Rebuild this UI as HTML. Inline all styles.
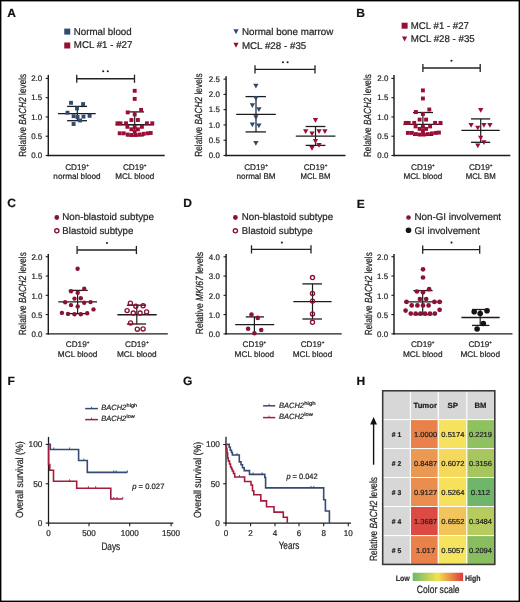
<!DOCTYPE html><html><head><meta charset="utf-8"><style>html,body{margin:0;padding:0;background:#fff;}svg{display:block;will-change:transform;}text{font-family:"Liberation Sans",sans-serif;text-rendering:geometricPrecision;stroke:#262626;stroke-width:0.22px;}</style></head><body>
<svg width="520" height="602" viewBox="0 0 520 602">
<rect x="0" y="0" width="520" height="602" fill="#fff"/>
<text x="7.30" y="17.00" font-size="12" text-anchor="start" font-weight="bold" font-style="normal" fill="#111">A</text>
<rect x="64.25" y="28.60" width="6.0" height="6.0" fill="#2f4b73"/>
<text x="73.80" y="34.70" font-size="9.8" text-anchor="start" font-weight="normal" font-style="normal" fill="#262626" textLength="57.80" lengthAdjust="spacingAndGlyphs">Normal blood</text>
<rect x="64.25" y="42.50" width="6.0" height="6.0" fill="#990f34"/>
<text x="73.80" y="48.30" font-size="9.8" text-anchor="start" font-weight="normal" font-style="normal" fill="#262626" textLength="58.60" lengthAdjust="spacingAndGlyphs">MCL #1 - #27</text>
<line x1="48.30" y1="74.90" x2="48.30" y2="156.20" stroke="#1c1c1c" stroke-width="1.45"/>
<line x1="45.70" y1="78.40" x2="48.30" y2="78.40" stroke="#1c1c1c" stroke-width="1.1"/>
<text x="42.20" y="81.00" font-size="8.0" text-anchor="end" font-weight="normal" font-style="normal" fill="#262626" textLength="11.00" lengthAdjust="spacingAndGlyphs">2.0</text>
<line x1="45.70" y1="97.68" x2="48.30" y2="97.68" stroke="#1c1c1c" stroke-width="1.1"/>
<text x="42.20" y="100.28" font-size="8.0" text-anchor="end" font-weight="normal" font-style="normal" fill="#262626" textLength="11.00" lengthAdjust="spacingAndGlyphs">1.5</text>
<line x1="45.70" y1="116.95" x2="48.30" y2="116.95" stroke="#1c1c1c" stroke-width="1.1"/>
<text x="42.20" y="119.55" font-size="8.0" text-anchor="end" font-weight="normal" font-style="normal" fill="#262626" textLength="11.00" lengthAdjust="spacingAndGlyphs">1.0</text>
<line x1="45.70" y1="136.22" x2="48.30" y2="136.22" stroke="#1c1c1c" stroke-width="1.1"/>
<text x="42.20" y="138.82" font-size="8.0" text-anchor="end" font-weight="normal" font-style="normal" fill="#262626" textLength="11.00" lengthAdjust="spacingAndGlyphs">0.5</text>
<line x1="45.70" y1="155.50" x2="48.30" y2="155.50" stroke="#1c1c1c" stroke-width="1.1"/>
<text x="42.20" y="158.10" font-size="8.0" text-anchor="end" font-weight="normal" font-style="normal" fill="#262626" textLength="11.00" lengthAdjust="spacingAndGlyphs">0.0</text>
<line x1="47.60" y1="155.50" x2="164.70" y2="155.50" stroke="#1c1c1c" stroke-width="1.45"/>
<text transform="translate(25.50,115.30) rotate(-90)" x="0" y="0" font-size="10.3" text-anchor="middle" fill="#262626" textLength="83.00" lengthAdjust="spacingAndGlyphs"><tspan font-style="normal">Relative </tspan><tspan font-style="italic">BACH2</tspan><tspan font-style="normal"> levels</tspan></text>
<line x1="76.75" y1="78.75" x2="134.50" y2="78.75" stroke="#222" stroke-width="1.3"/>
<line x1="76.75" y1="74.65" x2="76.75" y2="82.85" stroke="#222" stroke-width="1.3"/>
<line x1="134.50" y1="74.65" x2="134.50" y2="82.85" stroke="#222" stroke-width="1.3"/>
<circle cx="103.20" cy="71.30" r="1.05" fill="#222"/>
<circle cx="107.80" cy="71.30" r="1.05" fill="#222"/>
<line x1="58.00" y1="113.60" x2="95.70" y2="113.60" stroke="#1c1c1c" stroke-width="1.4"/>
<line x1="67.10" y1="106.40" x2="87.00" y2="106.40" stroke="#1c1c1c" stroke-width="1.3"/>
<line x1="67.10" y1="120.70" x2="87.00" y2="120.70" stroke="#1c1c1c" stroke-width="1.3"/>
<line x1="77.30" y1="106.40" x2="77.30" y2="120.70" stroke="#1c1c1c" stroke-width="1.2"/>
<line x1="115.50" y1="124.80" x2="153.80" y2="124.80" stroke="#1c1c1c" stroke-width="1.4"/>
<line x1="126.00" y1="111.90" x2="144.00" y2="111.90" stroke="#1c1c1c" stroke-width="1.3"/>
<line x1="126.00" y1="135.80" x2="144.00" y2="135.80" stroke="#1c1c1c" stroke-width="1.3"/>
<line x1="134.70" y1="111.90" x2="134.70" y2="135.80" stroke="#1c1c1c" stroke-width="1.2"/>
<rect x="69.05" y="100.85" width="3.9" height="3.9" fill="#2f4b73"/>
<rect x="81.15" y="102.15" width="3.9" height="3.9" fill="#2f4b73"/>
<rect x="75.05" y="106.45" width="3.9" height="3.9" fill="#2f4b73"/>
<rect x="65.55" y="110.75" width="3.9" height="3.9" fill="#2f4b73"/>
<rect x="71.65" y="114.25" width="3.9" height="3.9" fill="#2f4b73"/>
<rect x="81.55" y="114.65" width="3.9" height="3.9" fill="#2f4b73"/>
<rect x="87.65" y="113.85" width="3.9" height="3.9" fill="#2f4b73"/>
<rect x="78.15" y="118.55" width="3.9" height="3.9" fill="#2f4b73"/>
<rect x="71.65" y="122.05" width="3.9" height="3.9" fill="#2f4b73"/>
<rect x="75.55" y="115.05" width="3.9" height="3.9" fill="#2f4b73"/>
<rect x="132.75" y="88.85" width="3.9" height="3.9" fill="#990f34"/>
<rect x="132.75" y="96.95" width="3.9" height="3.9" fill="#990f34"/>
<rect x="139.15" y="107.95" width="3.9" height="3.9" fill="#990f34"/>
<rect x="125.75" y="110.45" width="3.9" height="3.9" fill="#990f34"/>
<rect x="132.75" y="112.45" width="3.9" height="3.9" fill="#990f34"/>
<rect x="129.45" y="118.05" width="3.9" height="3.9" fill="#990f34"/>
<rect x="135.95" y="118.05" width="3.9" height="3.9" fill="#990f34"/>
<rect x="115.55" y="121.35" width="3.9" height="3.9" fill="#990f34"/>
<rect x="118.55" y="121.35" width="3.9" height="3.9" fill="#990f34"/>
<rect x="124.05" y="121.35" width="3.9" height="3.9" fill="#990f34"/>
<rect x="144.95" y="121.35" width="3.9" height="3.9" fill="#990f34"/>
<rect x="150.35" y="121.35" width="3.9" height="3.9" fill="#990f34"/>
<rect x="125.45" y="124.85" width="3.9" height="3.9" fill="#990f34"/>
<rect x="139.95" y="124.85" width="3.9" height="3.9" fill="#990f34"/>
<rect x="132.75" y="125.05" width="3.9" height="3.9" fill="#990f34"/>
<rect x="129.45" y="127.35" width="3.9" height="3.9" fill="#990f34"/>
<rect x="135.95" y="127.35" width="3.9" height="3.9" fill="#990f34"/>
<rect x="117.75" y="131.35" width="3.9" height="3.9" fill="#990f34"/>
<rect x="121.75" y="131.35" width="3.9" height="3.9" fill="#990f34"/>
<rect x="125.75" y="132.55" width="3.9" height="3.9" fill="#990f34"/>
<rect x="129.75" y="133.05" width="3.9" height="3.9" fill="#990f34"/>
<rect x="133.75" y="133.05" width="3.9" height="3.9" fill="#990f34"/>
<rect x="137.75" y="132.55" width="3.9" height="3.9" fill="#990f34"/>
<rect x="141.75" y="131.85" width="3.9" height="3.9" fill="#990f34"/>
<rect x="145.75" y="131.35" width="3.9" height="3.9" fill="#990f34"/>
<rect x="148.75" y="131.05" width="3.9" height="3.9" fill="#990f34"/>
<rect x="132.75" y="129.55" width="3.9" height="3.9" fill="#990f34"/>
<text x="77.00" y="169.50" font-size="8.2" text-anchor="middle" fill="#262626">CD19<tspan font-size="4.6" dy="-3.0">+</tspan></text>
<text x="77.00" y="179.20" font-size="8.2" text-anchor="middle" font-weight="normal" font-style="normal" fill="#262626" textLength="47.30" lengthAdjust="spacingAndGlyphs">normal blood</text>
<text x="134.70" y="169.50" font-size="8.2" text-anchor="middle" fill="#262626">CD19<tspan font-size="4.6" dy="-3.0">+</tspan></text>
<text x="134.70" y="179.20" font-size="8.2" text-anchor="middle" font-weight="normal" font-style="normal" fill="#262626" textLength="39.00" lengthAdjust="spacingAndGlyphs">MCL blood</text>
<path d="M233.40 29.30H238.60L236.00 34.30Z" fill="#2f4b73"/>
<text x="241.90" y="35.00" font-size="9.8" text-anchor="start" font-weight="normal" font-style="normal" fill="#262626" textLength="91.50" lengthAdjust="spacingAndGlyphs">Normal bone marrow</text>
<path d="M233.40 42.80H238.60L236.00 47.80Z" fill="#990f34"/>
<text x="241.90" y="48.50" font-size="9.8" text-anchor="start" font-weight="normal" font-style="normal" fill="#262626" textLength="64.40" lengthAdjust="spacingAndGlyphs">MCL #28 - #35</text>
<line x1="226.10" y1="76.25" x2="226.10" y2="156.20" stroke="#1c1c1c" stroke-width="1.45"/>
<line x1="223.50" y1="79.10" x2="226.10" y2="79.10" stroke="#1c1c1c" stroke-width="1.1"/>
<text x="219.80" y="81.70" font-size="8.0" text-anchor="end" font-weight="normal" font-style="normal" fill="#262626" textLength="11.00" lengthAdjust="spacingAndGlyphs">2.5</text>
<line x1="223.50" y1="94.38" x2="226.10" y2="94.38" stroke="#1c1c1c" stroke-width="1.1"/>
<text x="219.80" y="96.98" font-size="8.0" text-anchor="end" font-weight="normal" font-style="normal" fill="#262626" textLength="11.00" lengthAdjust="spacingAndGlyphs">2.0</text>
<line x1="223.50" y1="109.66" x2="226.10" y2="109.66" stroke="#1c1c1c" stroke-width="1.1"/>
<text x="219.80" y="112.26" font-size="8.0" text-anchor="end" font-weight="normal" font-style="normal" fill="#262626" textLength="11.00" lengthAdjust="spacingAndGlyphs">1.5</text>
<line x1="223.50" y1="124.94" x2="226.10" y2="124.94" stroke="#1c1c1c" stroke-width="1.1"/>
<text x="219.80" y="127.54" font-size="8.0" text-anchor="end" font-weight="normal" font-style="normal" fill="#262626" textLength="11.00" lengthAdjust="spacingAndGlyphs">1.0</text>
<line x1="223.50" y1="140.22" x2="226.10" y2="140.22" stroke="#1c1c1c" stroke-width="1.1"/>
<text x="219.80" y="142.82" font-size="8.0" text-anchor="end" font-weight="normal" font-style="normal" fill="#262626" textLength="11.00" lengthAdjust="spacingAndGlyphs">0.5</text>
<line x1="223.50" y1="155.50" x2="226.10" y2="155.50" stroke="#1c1c1c" stroke-width="1.1"/>
<text x="219.80" y="158.10" font-size="8.0" text-anchor="end" font-weight="normal" font-style="normal" fill="#262626" textLength="11.00" lengthAdjust="spacingAndGlyphs">0.0</text>
<line x1="225.40" y1="155.50" x2="345.50" y2="155.50" stroke="#1c1c1c" stroke-width="1.45"/>
<text transform="translate(202.30,115.00) rotate(-90)" x="0" y="0" font-size="10.3" text-anchor="middle" fill="#262626" textLength="83.50" lengthAdjust="spacingAndGlyphs"><tspan font-style="normal">Relative </tspan><tspan font-style="italic">BACH2</tspan><tspan font-style="normal"> levels</tspan></text>
<line x1="255.00" y1="69.30" x2="315.00" y2="69.30" stroke="#222" stroke-width="1.3"/>
<line x1="255.00" y1="65.20" x2="255.00" y2="73.40" stroke="#222" stroke-width="1.3"/>
<line x1="315.00" y1="65.20" x2="315.00" y2="73.40" stroke="#222" stroke-width="1.3"/>
<circle cx="283.00" cy="62.30" r="1.05" fill="#222"/>
<circle cx="287.60" cy="62.30" r="1.05" fill="#222"/>
<line x1="236.20" y1="114.40" x2="275.80" y2="114.40" stroke="#1c1c1c" stroke-width="1.4"/>
<line x1="245.50" y1="96.60" x2="265.90" y2="96.60" stroke="#1c1c1c" stroke-width="1.3"/>
<line x1="245.50" y1="131.90" x2="265.90" y2="131.90" stroke="#1c1c1c" stroke-width="1.3"/>
<line x1="256.00" y1="96.60" x2="256.00" y2="131.90" stroke="#1c1c1c" stroke-width="1.2"/>
<line x1="295.80" y1="136.10" x2="335.40" y2="136.10" stroke="#1c1c1c" stroke-width="1.4"/>
<line x1="305.70" y1="126.50" x2="325.40" y2="126.50" stroke="#1c1c1c" stroke-width="1.3"/>
<line x1="305.70" y1="145.40" x2="325.40" y2="145.40" stroke="#1c1c1c" stroke-width="1.3"/>
<line x1="315.50" y1="126.50" x2="315.50" y2="145.40" stroke="#1c1c1c" stroke-width="1.2"/>
<path d="M253.25 83.85H258.55L255.90 88.55Z" fill="#2f4b73"/>
<path d="M253.25 96.35H258.55L255.90 101.05Z" fill="#2f4b73"/>
<path d="M249.75 103.35H255.05L252.40 108.05Z" fill="#2f4b73"/>
<path d="M256.25 107.35H261.55L258.90 112.05Z" fill="#2f4b73"/>
<path d="M253.25 115.25H258.55L255.90 119.95Z" fill="#2f4b73"/>
<path d="M249.75 122.55H255.05L252.40 127.25Z" fill="#2f4b73"/>
<path d="M256.25 123.55H261.55L258.90 128.25Z" fill="#2f4b73"/>
<path d="M253.25 141.05H258.55L255.90 145.75Z" fill="#2f4b73"/>
<path d="M312.85 118.05H318.15L315.50 122.75Z" fill="#990f34"/>
<path d="M303.05 129.35H308.35L305.70 134.05Z" fill="#990f34"/>
<path d="M309.35 131.45H314.65L312.00 136.15Z" fill="#990f34"/>
<path d="M316.35 129.35H321.65L319.00 134.05Z" fill="#990f34"/>
<path d="M322.25 129.35H327.55L324.90 134.05Z" fill="#990f34"/>
<path d="M312.85 138.95H318.15L315.50 143.65Z" fill="#990f34"/>
<path d="M316.35 143.05H321.65L319.00 147.75Z" fill="#990f34"/>
<path d="M309.35 145.95H314.65L312.00 150.65Z" fill="#990f34"/>
<text x="256.00" y="169.50" font-size="8.2" text-anchor="middle" fill="#262626">CD19<tspan font-size="4.6" dy="-3.0">+</tspan></text>
<text x="256.00" y="179.20" font-size="8.2" text-anchor="middle" font-weight="normal" font-style="normal" fill="#262626" textLength="39.00" lengthAdjust="spacingAndGlyphs">normal BM</text>
<text x="315.50" y="169.50" font-size="8.2" text-anchor="middle" fill="#262626">CD19<tspan font-size="4.6" dy="-3.0">+</tspan></text>
<text x="315.50" y="179.20" font-size="8.2" text-anchor="middle" font-weight="normal" font-style="normal" fill="#262626" textLength="30.00" lengthAdjust="spacingAndGlyphs">MCL BM</text>
<text x="356.30" y="17.30" font-size="12" text-anchor="start" font-weight="bold" font-style="normal" fill="#111">B</text>
<rect x="401.60" y="22.70" width="6.0" height="6.0" fill="#990f34"/>
<text x="410.80" y="28.90" font-size="9.8" text-anchor="start" font-weight="normal" font-style="normal" fill="#262626" textLength="58.20" lengthAdjust="spacingAndGlyphs">MCL #1 - #27</text>
<path d="M402.00 36.50H407.20L404.60 41.50Z" fill="#990f34"/>
<text x="410.80" y="42.20" font-size="9.8" text-anchor="start" font-weight="normal" font-style="normal" fill="#262626" textLength="64.00" lengthAdjust="spacingAndGlyphs">MCL #28 - #35</text>
<line x1="394.00" y1="74.90" x2="394.00" y2="156.20" stroke="#1c1c1c" stroke-width="1.45"/>
<line x1="391.40" y1="78.40" x2="394.00" y2="78.40" stroke="#1c1c1c" stroke-width="1.1"/>
<text x="388.30" y="81.00" font-size="8.0" text-anchor="end" font-weight="normal" font-style="normal" fill="#262626" textLength="11.00" lengthAdjust="spacingAndGlyphs">2.0</text>
<line x1="391.40" y1="97.68" x2="394.00" y2="97.68" stroke="#1c1c1c" stroke-width="1.1"/>
<text x="388.30" y="100.28" font-size="8.0" text-anchor="end" font-weight="normal" font-style="normal" fill="#262626" textLength="11.00" lengthAdjust="spacingAndGlyphs">1.5</text>
<line x1="391.40" y1="116.95" x2="394.00" y2="116.95" stroke="#1c1c1c" stroke-width="1.1"/>
<text x="388.30" y="119.55" font-size="8.0" text-anchor="end" font-weight="normal" font-style="normal" fill="#262626" textLength="11.00" lengthAdjust="spacingAndGlyphs">1.0</text>
<line x1="391.40" y1="136.22" x2="394.00" y2="136.22" stroke="#1c1c1c" stroke-width="1.1"/>
<text x="388.30" y="138.82" font-size="8.0" text-anchor="end" font-weight="normal" font-style="normal" fill="#262626" textLength="11.00" lengthAdjust="spacingAndGlyphs">0.5</text>
<line x1="391.40" y1="155.50" x2="394.00" y2="155.50" stroke="#1c1c1c" stroke-width="1.1"/>
<text x="388.30" y="158.10" font-size="8.0" text-anchor="end" font-weight="normal" font-style="normal" fill="#262626" textLength="11.00" lengthAdjust="spacingAndGlyphs">0.0</text>
<line x1="393.30" y1="155.50" x2="510.30" y2="155.50" stroke="#1c1c1c" stroke-width="1.45"/>
<text transform="translate(370.90,115.60) rotate(-90)" x="0" y="0" font-size="10.3" text-anchor="middle" fill="#262626" textLength="83.00" lengthAdjust="spacingAndGlyphs"><tspan font-style="normal">Relative </tspan><tspan font-style="italic">BACH2</tspan><tspan font-style="normal"> levels</tspan></text>
<line x1="422.90" y1="68.00" x2="480.20" y2="68.00" stroke="#222" stroke-width="1.3"/>
<line x1="422.90" y1="63.90" x2="422.90" y2="72.10" stroke="#222" stroke-width="1.3"/>
<line x1="480.20" y1="63.90" x2="480.20" y2="72.10" stroke="#222" stroke-width="1.3"/>
<circle cx="451.50" cy="60.80" r="1.05" fill="#222"/>
<line x1="403.40" y1="124.40" x2="442.30" y2="124.40" stroke="#1c1c1c" stroke-width="1.4"/>
<line x1="413.00" y1="112.50" x2="433.00" y2="112.50" stroke="#1c1c1c" stroke-width="1.3"/>
<line x1="413.00" y1="135.30" x2="433.00" y2="135.30" stroke="#1c1c1c" stroke-width="1.3"/>
<line x1="422.90" y1="112.50" x2="422.90" y2="135.30" stroke="#1c1c1c" stroke-width="1.2"/>
<line x1="461.40" y1="130.40" x2="499.70" y2="130.40" stroke="#1c1c1c" stroke-width="1.4"/>
<line x1="471.00" y1="118.90" x2="490.20" y2="118.90" stroke="#1c1c1c" stroke-width="1.3"/>
<line x1="471.00" y1="142.30" x2="490.20" y2="142.30" stroke="#1c1c1c" stroke-width="1.3"/>
<line x1="480.70" y1="118.90" x2="480.70" y2="142.30" stroke="#1c1c1c" stroke-width="1.2"/>
<rect x="420.95" y="88.45" width="3.9" height="3.9" fill="#990f34"/>
<rect x="420.95" y="96.55" width="3.9" height="3.9" fill="#990f34"/>
<rect x="427.35" y="107.55" width="3.9" height="3.9" fill="#990f34"/>
<rect x="413.95" y="110.05" width="3.9" height="3.9" fill="#990f34"/>
<rect x="420.95" y="112.05" width="3.9" height="3.9" fill="#990f34"/>
<rect x="417.65" y="117.65" width="3.9" height="3.9" fill="#990f34"/>
<rect x="424.15" y="117.65" width="3.9" height="3.9" fill="#990f34"/>
<rect x="403.75" y="120.95" width="3.9" height="3.9" fill="#990f34"/>
<rect x="406.75" y="120.95" width="3.9" height="3.9" fill="#990f34"/>
<rect x="412.25" y="120.95" width="3.9" height="3.9" fill="#990f34"/>
<rect x="433.15" y="120.95" width="3.9" height="3.9" fill="#990f34"/>
<rect x="438.55" y="120.95" width="3.9" height="3.9" fill="#990f34"/>
<rect x="413.65" y="124.45" width="3.9" height="3.9" fill="#990f34"/>
<rect x="428.15" y="124.45" width="3.9" height="3.9" fill="#990f34"/>
<rect x="420.95" y="124.65" width="3.9" height="3.9" fill="#990f34"/>
<rect x="417.65" y="126.95" width="3.9" height="3.9" fill="#990f34"/>
<rect x="424.15" y="126.95" width="3.9" height="3.9" fill="#990f34"/>
<rect x="405.95" y="130.95" width="3.9" height="3.9" fill="#990f34"/>
<rect x="409.95" y="130.95" width="3.9" height="3.9" fill="#990f34"/>
<rect x="413.95" y="132.15" width="3.9" height="3.9" fill="#990f34"/>
<rect x="417.95" y="132.65" width="3.9" height="3.9" fill="#990f34"/>
<rect x="421.95" y="132.65" width="3.9" height="3.9" fill="#990f34"/>
<rect x="425.95" y="132.15" width="3.9" height="3.9" fill="#990f34"/>
<rect x="429.95" y="131.45" width="3.9" height="3.9" fill="#990f34"/>
<rect x="433.95" y="130.95" width="3.9" height="3.9" fill="#990f34"/>
<rect x="436.95" y="130.65" width="3.9" height="3.9" fill="#990f34"/>
<rect x="420.95" y="129.15" width="3.9" height="3.9" fill="#990f34"/>
<path d="M478.05 107.95H483.35L480.70 112.65Z" fill="#990f34"/>
<path d="M468.45 122.95H473.75L471.10 127.65Z" fill="#990f34"/>
<path d="M475.15 125.65H480.45L477.80 130.35Z" fill="#990f34"/>
<path d="M481.25 122.95H486.55L483.90 127.65Z" fill="#990f34"/>
<path d="M487.25 122.95H492.55L489.90 127.65Z" fill="#990f34"/>
<path d="M478.05 135.65H483.35L480.70 140.35Z" fill="#990f34"/>
<path d="M481.25 140.25H486.55L483.90 144.95Z" fill="#990f34"/>
<path d="M475.15 143.55H480.45L477.80 148.25Z" fill="#990f34"/>
<text x="422.90" y="169.50" font-size="8.2" text-anchor="middle" fill="#262626">CD19<tspan font-size="4.6" dy="-3.0">+</tspan></text>
<text x="422.90" y="179.20" font-size="8.2" text-anchor="middle" font-weight="normal" font-style="normal" fill="#262626" textLength="39.00" lengthAdjust="spacingAndGlyphs">MCL blood</text>
<text x="480.70" y="169.50" font-size="8.2" text-anchor="middle" fill="#262626">CD19<tspan font-size="4.6" dy="-3.0">+</tspan></text>
<text x="480.70" y="179.20" font-size="8.2" text-anchor="middle" font-weight="normal" font-style="normal" fill="#262626" textLength="30.00" lengthAdjust="spacingAndGlyphs">MCL BM</text>
<text x="7.30" y="207.00" font-size="12" text-anchor="start" font-weight="bold" font-style="normal" fill="#111">C</text>
<circle cx="56.80" cy="217.50" r="2.4" fill="#8a1232"/>
<text x="62.30" y="220.40" font-size="9.8" text-anchor="start" font-weight="normal" font-style="normal" fill="#262626" textLength="91.60" lengthAdjust="spacingAndGlyphs">Non-blastoid subtype</text>
<circle cx="56.80" cy="230.80" r="2.1" fill="none" stroke="#8a1232" stroke-width="1.35"/>
<text x="62.30" y="234.20" font-size="9.8" text-anchor="start" font-weight="normal" font-style="normal" fill="#262626" textLength="71.10" lengthAdjust="spacingAndGlyphs">Blastoid subtype</text>
<line x1="48.30" y1="253.90" x2="48.30" y2="334.55" stroke="#1c1c1c" stroke-width="1.45"/>
<line x1="45.70" y1="256.75" x2="48.30" y2="256.75" stroke="#1c1c1c" stroke-width="1.1"/>
<text x="42.40" y="259.95" font-size="8.0" text-anchor="end" font-weight="normal" font-style="normal" fill="#262626" textLength="11.00" lengthAdjust="spacingAndGlyphs">2.0</text>
<line x1="45.70" y1="276.03" x2="48.30" y2="276.03" stroke="#1c1c1c" stroke-width="1.1"/>
<text x="42.40" y="279.23" font-size="8.0" text-anchor="end" font-weight="normal" font-style="normal" fill="#262626" textLength="11.00" lengthAdjust="spacingAndGlyphs">1.5</text>
<line x1="45.70" y1="295.30" x2="48.30" y2="295.30" stroke="#1c1c1c" stroke-width="1.1"/>
<text x="42.40" y="298.50" font-size="8.0" text-anchor="end" font-weight="normal" font-style="normal" fill="#262626" textLength="11.00" lengthAdjust="spacingAndGlyphs">1.0</text>
<line x1="45.70" y1="314.58" x2="48.30" y2="314.58" stroke="#1c1c1c" stroke-width="1.1"/>
<text x="42.40" y="317.78" font-size="8.0" text-anchor="end" font-weight="normal" font-style="normal" fill="#262626" textLength="11.00" lengthAdjust="spacingAndGlyphs">0.5</text>
<line x1="45.70" y1="333.85" x2="48.30" y2="333.85" stroke="#1c1c1c" stroke-width="1.1"/>
<text x="42.40" y="337.05" font-size="8.0" text-anchor="end" font-weight="normal" font-style="normal" fill="#262626" textLength="11.00" lengthAdjust="spacingAndGlyphs">0.0</text>
<line x1="47.60" y1="333.85" x2="167.80" y2="333.85" stroke="#1c1c1c" stroke-width="1.45"/>
<text transform="translate(25.80,293.70) rotate(-90)" x="0" y="0" font-size="10.3" text-anchor="middle" fill="#262626" textLength="83.00" lengthAdjust="spacingAndGlyphs"><tspan font-style="normal">Relative </tspan><tspan font-style="italic">BACH2</tspan><tspan font-style="normal"> levels</tspan></text>
<line x1="77.10" y1="250.00" x2="136.40" y2="250.00" stroke="#222" stroke-width="1.3"/>
<line x1="77.10" y1="245.90" x2="77.10" y2="254.10" stroke="#222" stroke-width="1.3"/>
<line x1="136.40" y1="245.90" x2="136.40" y2="254.10" stroke="#222" stroke-width="1.3"/>
<circle cx="107.00" cy="243.00" r="1.05" fill="#222"/>
<line x1="58.30" y1="301.90" x2="97.00" y2="301.90" stroke="#1c1c1c" stroke-width="1.4"/>
<line x1="68.70" y1="290.40" x2="87.70" y2="290.40" stroke="#1c1c1c" stroke-width="1.3"/>
<line x1="68.70" y1="313.60" x2="87.70" y2="313.60" stroke="#1c1c1c" stroke-width="1.3"/>
<line x1="77.60" y1="290.40" x2="77.60" y2="313.60" stroke="#1c1c1c" stroke-width="1.2"/>
<line x1="117.40" y1="314.70" x2="156.70" y2="314.70" stroke="#1c1c1c" stroke-width="1.4"/>
<line x1="126.90" y1="305.20" x2="146.10" y2="305.20" stroke="#1c1c1c" stroke-width="1.3"/>
<line x1="126.90" y1="324.00" x2="146.10" y2="324.00" stroke="#1c1c1c" stroke-width="1.3"/>
<line x1="136.80" y1="305.20" x2="136.80" y2="324.00" stroke="#1c1c1c" stroke-width="1.2"/>
<circle cx="77.60" cy="268.70" r="2.2" fill="#8a1232"/>
<circle cx="84.20" cy="288.70" r="2.2" fill="#8a1232"/>
<circle cx="71.00" cy="291.20" r="2.2" fill="#8a1232"/>
<circle cx="77.70" cy="292.80" r="2.2" fill="#8a1232"/>
<circle cx="74.50" cy="298.60" r="2.2" fill="#8a1232"/>
<circle cx="80.80" cy="298.30" r="2.2" fill="#8a1232"/>
<circle cx="65.20" cy="302.30" r="2.2" fill="#8a1232"/>
<circle cx="84.20" cy="302.70" r="2.2" fill="#8a1232"/>
<circle cx="90.50" cy="302.10" r="2.2" fill="#8a1232"/>
<circle cx="71.00" cy="305.10" r="2.2" fill="#8a1232"/>
<circle cx="77.70" cy="306.40" r="2.2" fill="#8a1232"/>
<circle cx="93.50" cy="309.40" r="2.2" fill="#8a1232"/>
<circle cx="61.90" cy="312.90" r="2.2" fill="#8a1232"/>
<circle cx="68.00" cy="313.90" r="2.2" fill="#8a1232"/>
<circle cx="74.50" cy="314.20" r="2.2" fill="#8a1232"/>
<circle cx="80.80" cy="314.20" r="2.2" fill="#8a1232"/>
<circle cx="87.20" cy="313.30" r="2.2" fill="#8a1232"/>
<circle cx="130.40" cy="303.20" r="2.05" fill="none" stroke="#8a1232" stroke-width="1.35"/>
<circle cx="135.80" cy="306.20" r="2.05" fill="none" stroke="#8a1232" stroke-width="1.35"/>
<circle cx="143.10" cy="305.80" r="2.05" fill="none" stroke="#8a1232" stroke-width="1.35"/>
<circle cx="127.10" cy="310.60" r="2.05" fill="none" stroke="#8a1232" stroke-width="1.35"/>
<circle cx="133.30" cy="313.00" r="2.05" fill="none" stroke="#8a1232" stroke-width="1.35"/>
<circle cx="140.10" cy="313.00" r="2.05" fill="none" stroke="#8a1232" stroke-width="1.35"/>
<circle cx="146.60" cy="311.90" r="2.05" fill="none" stroke="#8a1232" stroke-width="1.35"/>
<circle cx="130.60" cy="322.90" r="2.05" fill="none" stroke="#8a1232" stroke-width="1.35"/>
<circle cx="137.30" cy="329.20" r="2.05" fill="none" stroke="#8a1232" stroke-width="1.35"/>
<circle cx="143.10" cy="328.90" r="2.05" fill="none" stroke="#8a1232" stroke-width="1.35"/>
<text x="77.60" y="346.70" font-size="8.2" text-anchor="middle" fill="#262626">CD19<tspan font-size="4.6" dy="-3.0">+</tspan></text>
<text x="77.60" y="356.90" font-size="8.2" text-anchor="middle" font-weight="normal" font-style="normal" fill="#262626" textLength="39.60" lengthAdjust="spacingAndGlyphs">MCL blood</text>
<text x="136.80" y="346.70" font-size="8.2" text-anchor="middle" fill="#262626">CD19<tspan font-size="4.6" dy="-3.0">+</tspan></text>
<text x="136.80" y="356.90" font-size="8.2" text-anchor="middle" font-weight="normal" font-style="normal" fill="#262626" textLength="39.60" lengthAdjust="spacingAndGlyphs">MCL blood</text>
<text x="183.20" y="206.80" font-size="12" text-anchor="start" font-weight="bold" font-style="normal" fill="#111">D</text>
<circle cx="235.40" cy="217.50" r="2.4" fill="#8a1232"/>
<text x="241.80" y="220.40" font-size="9.8" text-anchor="start" font-weight="normal" font-style="normal" fill="#262626" textLength="91.30" lengthAdjust="spacingAndGlyphs">Non-blastoid subtype</text>
<circle cx="235.40" cy="230.80" r="2.1" fill="none" stroke="#8a1232" stroke-width="1.35"/>
<text x="241.80" y="234.20" font-size="9.8" text-anchor="start" font-weight="normal" font-style="normal" fill="#262626" textLength="70.80" lengthAdjust="spacingAndGlyphs">Blastoid subtype</text>
<line x1="226.10" y1="253.90" x2="226.10" y2="334.55" stroke="#1c1c1c" stroke-width="1.45"/>
<line x1="223.50" y1="256.81" x2="226.10" y2="256.81" stroke="#1c1c1c" stroke-width="1.1"/>
<text x="219.80" y="260.01" font-size="8.0" text-anchor="end" font-weight="normal" font-style="normal" fill="#262626" textLength="11.00" lengthAdjust="spacingAndGlyphs">4.0</text>
<line x1="223.50" y1="276.07" x2="226.10" y2="276.07" stroke="#1c1c1c" stroke-width="1.1"/>
<text x="219.80" y="279.27" font-size="8.0" text-anchor="end" font-weight="normal" font-style="normal" fill="#262626" textLength="11.00" lengthAdjust="spacingAndGlyphs">3.0</text>
<line x1="223.50" y1="295.33" x2="226.10" y2="295.33" stroke="#1c1c1c" stroke-width="1.1"/>
<text x="219.80" y="298.53" font-size="8.0" text-anchor="end" font-weight="normal" font-style="normal" fill="#262626" textLength="11.00" lengthAdjust="spacingAndGlyphs">2.0</text>
<line x1="223.50" y1="314.59" x2="226.10" y2="314.59" stroke="#1c1c1c" stroke-width="1.1"/>
<text x="219.80" y="317.79" font-size="8.0" text-anchor="end" font-weight="normal" font-style="normal" fill="#262626" textLength="11.00" lengthAdjust="spacingAndGlyphs">1.0</text>
<line x1="223.50" y1="333.85" x2="226.10" y2="333.85" stroke="#1c1c1c" stroke-width="1.1"/>
<text x="219.80" y="337.05" font-size="8.0" text-anchor="end" font-weight="normal" font-style="normal" fill="#262626" textLength="11.00" lengthAdjust="spacingAndGlyphs">0.0</text>
<line x1="225.40" y1="333.85" x2="341.70" y2="333.85" stroke="#1c1c1c" stroke-width="1.45"/>
<text transform="translate(203.40,293.10) rotate(-90)" x="0" y="0" font-size="10.3" text-anchor="middle" fill="#262626" textLength="82.30" lengthAdjust="spacingAndGlyphs"><tspan font-style="normal">Relative </tspan><tspan font-style="italic">MKI67</tspan><tspan font-style="normal"> levels</tspan></text>
<line x1="251.50" y1="249.40" x2="311.00" y2="249.40" stroke="#222" stroke-width="1.3"/>
<line x1="251.50" y1="245.30" x2="251.50" y2="253.50" stroke="#222" stroke-width="1.3"/>
<line x1="311.00" y1="245.30" x2="311.00" y2="253.50" stroke="#222" stroke-width="1.3"/>
<circle cx="281.90" cy="242.60" r="1.05" fill="#222"/>
<line x1="235.20" y1="324.60" x2="274.20" y2="324.60" stroke="#1c1c1c" stroke-width="1.4"/>
<line x1="245.80" y1="316.90" x2="264.00" y2="316.90" stroke="#1c1c1c" stroke-width="1.3"/>
<line x1="254.40" y1="316.90" x2="254.40" y2="333.85" stroke="#1c1c1c" stroke-width="1.2"/>
<line x1="293.30" y1="301.60" x2="331.60" y2="301.60" stroke="#1c1c1c" stroke-width="1.4"/>
<line x1="302.40" y1="283.90" x2="322.00" y2="283.90" stroke="#1c1c1c" stroke-width="1.3"/>
<line x1="302.40" y1="319.00" x2="322.00" y2="319.00" stroke="#1c1c1c" stroke-width="1.3"/>
<line x1="312.50" y1="283.90" x2="312.50" y2="319.00" stroke="#1c1c1c" stroke-width="1.2"/>
<circle cx="251.50" cy="314.60" r="2.3" fill="#8a1232"/>
<circle cx="257.70" cy="317.90" r="2.3" fill="#8a1232"/>
<circle cx="248.10" cy="328.80" r="2.3" fill="#8a1232"/>
<circle cx="261.20" cy="330.00" r="2.3" fill="#8a1232"/>
<circle cx="254.40" cy="333.20" r="2.3" fill="#8a1232"/>
<circle cx="312.50" cy="277.50" r="2.05" fill="none" stroke="#8a1232" stroke-width="1.35"/>
<circle cx="312.50" cy="293.40" r="2.05" fill="none" stroke="#8a1232" stroke-width="1.35"/>
<circle cx="312.50" cy="301.10" r="2.05" fill="none" stroke="#8a1232" stroke-width="1.35"/>
<circle cx="312.50" cy="313.90" r="2.05" fill="none" stroke="#8a1232" stroke-width="1.35"/>
<circle cx="312.50" cy="322.30" r="2.05" fill="none" stroke="#8a1232" stroke-width="1.35"/>
<text x="254.40" y="346.70" font-size="8.2" text-anchor="middle" fill="#262626">CD19<tspan font-size="4.6" dy="-3.0">+</tspan></text>
<text x="254.40" y="356.90" font-size="8.2" text-anchor="middle" font-weight="normal" font-style="normal" fill="#262626" textLength="39.60" lengthAdjust="spacingAndGlyphs">MCL blood</text>
<text x="312.50" y="346.70" font-size="8.2" text-anchor="middle" fill="#262626">CD19<tspan font-size="4.6" dy="-3.0">+</tspan></text>
<text x="312.50" y="356.90" font-size="8.2" text-anchor="middle" font-weight="normal" font-style="normal" fill="#262626" textLength="39.60" lengthAdjust="spacingAndGlyphs">MCL blood</text>
<text x="356.70" y="207.50" font-size="12" text-anchor="start" font-weight="bold" font-style="normal" fill="#111">E</text>
<circle cx="408.50" cy="217.50" r="2.3" fill="#8a1232"/>
<text x="414.40" y="220.30" font-size="9.8" text-anchor="start" font-weight="normal" font-style="normal" fill="#262626" textLength="86.70" lengthAdjust="spacingAndGlyphs">Non-GI involvement</text>
<circle cx="408.50" cy="230.20" r="2.8" fill="#1a1114"/>
<text x="414.40" y="233.50" font-size="9.8" text-anchor="start" font-weight="normal" font-style="normal" fill="#262626" textLength="65.60" lengthAdjust="spacingAndGlyphs">GI involvement</text>
<line x1="394.00" y1="253.90" x2="394.00" y2="334.55" stroke="#1c1c1c" stroke-width="1.45"/>
<line x1="391.40" y1="256.75" x2="394.00" y2="256.75" stroke="#1c1c1c" stroke-width="1.1"/>
<text x="388.10" y="259.95" font-size="8.0" text-anchor="end" font-weight="normal" font-style="normal" fill="#262626" textLength="11.00" lengthAdjust="spacingAndGlyphs">2.0</text>
<line x1="391.40" y1="276.03" x2="394.00" y2="276.03" stroke="#1c1c1c" stroke-width="1.1"/>
<text x="388.10" y="279.23" font-size="8.0" text-anchor="end" font-weight="normal" font-style="normal" fill="#262626" textLength="11.00" lengthAdjust="spacingAndGlyphs">1.5</text>
<line x1="391.40" y1="295.30" x2="394.00" y2="295.30" stroke="#1c1c1c" stroke-width="1.1"/>
<text x="388.10" y="298.50" font-size="8.0" text-anchor="end" font-weight="normal" font-style="normal" fill="#262626" textLength="11.00" lengthAdjust="spacingAndGlyphs">1.0</text>
<line x1="391.40" y1="314.58" x2="394.00" y2="314.58" stroke="#1c1c1c" stroke-width="1.1"/>
<text x="388.10" y="317.78" font-size="8.0" text-anchor="end" font-weight="normal" font-style="normal" fill="#262626" textLength="11.00" lengthAdjust="spacingAndGlyphs">0.5</text>
<line x1="391.40" y1="333.85" x2="394.00" y2="333.85" stroke="#1c1c1c" stroke-width="1.1"/>
<text x="388.10" y="337.05" font-size="8.0" text-anchor="end" font-weight="normal" font-style="normal" fill="#262626" textLength="11.00" lengthAdjust="spacingAndGlyphs">0.0</text>
<line x1="393.30" y1="333.85" x2="512.50" y2="333.85" stroke="#1c1c1c" stroke-width="1.45"/>
<text transform="translate(371.80,293.70) rotate(-90)" x="0" y="0" font-size="10.3" text-anchor="middle" fill="#262626" textLength="83.00" lengthAdjust="spacingAndGlyphs"><tspan font-style="normal">Relative </tspan><tspan font-style="italic">BACH2</tspan><tspan font-style="normal"> levels</tspan></text>
<line x1="422.70" y1="249.60" x2="479.70" y2="249.60" stroke="#222" stroke-width="1.3"/>
<line x1="422.70" y1="245.50" x2="422.70" y2="253.70" stroke="#222" stroke-width="1.3"/>
<line x1="479.70" y1="245.50" x2="479.70" y2="253.70" stroke="#222" stroke-width="1.3"/>
<circle cx="451.50" cy="242.60" r="1.05" fill="#222"/>
<line x1="404.20" y1="301.90" x2="442.20" y2="301.90" stroke="#1c1c1c" stroke-width="1.4"/>
<line x1="413.40" y1="290.60" x2="432.60" y2="290.60" stroke="#1c1c1c" stroke-width="1.3"/>
<line x1="413.40" y1="314.70" x2="432.60" y2="314.70" stroke="#1c1c1c" stroke-width="1.3"/>
<line x1="422.70" y1="290.60" x2="422.70" y2="314.70" stroke="#1c1c1c" stroke-width="1.2"/>
<line x1="461.40" y1="317.50" x2="499.70" y2="317.50" stroke="#1c1c1c" stroke-width="1.4"/>
<line x1="472.00" y1="309.50" x2="489.30" y2="309.50" stroke="#1c1c1c" stroke-width="1.3"/>
<line x1="472.00" y1="325.40" x2="489.30" y2="325.40" stroke="#1c1c1c" stroke-width="1.3"/>
<line x1="480.20" y1="309.50" x2="480.20" y2="325.40" stroke="#1c1c1c" stroke-width="1.2"/>
<circle cx="423.00" cy="269.30" r="2.35" fill="#8a1232"/>
<circle cx="423.00" cy="277.50" r="2.35" fill="#8a1232"/>
<circle cx="416.90" cy="291.50" r="2.35" fill="#8a1232"/>
<circle cx="429.10" cy="289.20" r="2.35" fill="#8a1232"/>
<circle cx="423.00" cy="292.30" r="2.35" fill="#8a1232"/>
<circle cx="419.90" cy="299.00" r="2.35" fill="#8a1232"/>
<circle cx="426.20" cy="299.00" r="2.35" fill="#8a1232"/>
<circle cx="406.50" cy="301.90" r="2.35" fill="#8a1232"/>
<circle cx="434.40" cy="301.90" r="2.35" fill="#8a1232"/>
<circle cx="439.60" cy="301.90" r="2.35" fill="#8a1232"/>
<circle cx="411.70" cy="305.40" r="2.35" fill="#8a1232"/>
<circle cx="417.40" cy="305.40" r="2.35" fill="#8a1232"/>
<circle cx="423.00" cy="305.40" r="2.35" fill="#8a1232"/>
<circle cx="428.60" cy="305.40" r="2.35" fill="#8a1232"/>
<circle cx="405.60" cy="310.60" r="2.35" fill="#8a1232"/>
<circle cx="439.60" cy="309.80" r="2.35" fill="#8a1232"/>
<circle cx="410.80" cy="313.60" r="2.35" fill="#8a1232"/>
<circle cx="415.70" cy="313.60" r="2.35" fill="#8a1232"/>
<circle cx="420.40" cy="313.60" r="2.35" fill="#8a1232"/>
<circle cx="425.10" cy="313.60" r="2.35" fill="#8a1232"/>
<circle cx="430.00" cy="313.60" r="2.35" fill="#8a1232"/>
<circle cx="434.90" cy="313.60" r="2.35" fill="#8a1232"/>
<circle cx="474.20" cy="311.70" r="2.8" fill="#1a1114"/>
<circle cx="487.00" cy="310.80" r="2.8" fill="#1a1114"/>
<circle cx="480.20" cy="313.50" r="2.8" fill="#1a1114"/>
<circle cx="483.30" cy="323.50" r="2.8" fill="#1a1114"/>
<circle cx="477.10" cy="329.00" r="2.8" fill="#1a1114"/>
<text x="422.70" y="346.70" font-size="8.2" text-anchor="middle" fill="#262626">CD19<tspan font-size="4.6" dy="-3.0">+</tspan></text>
<text x="422.70" y="356.90" font-size="8.2" text-anchor="middle" font-weight="normal" font-style="normal" fill="#262626" textLength="39.60" lengthAdjust="spacingAndGlyphs">MCL blood</text>
<text x="480.20" y="346.70" font-size="8.2" text-anchor="middle" fill="#262626">CD19<tspan font-size="4.6" dy="-3.0">+</tspan></text>
<text x="480.20" y="356.90" font-size="8.2" text-anchor="middle" font-weight="normal" font-style="normal" fill="#262626" textLength="39.60" lengthAdjust="spacingAndGlyphs">MCL blood</text>
<text x="7.50" y="384.60" font-size="12" text-anchor="start" font-weight="bold" font-style="normal" fill="#111">F</text>
<line x1="85.20" y1="408.60" x2="97.90" y2="408.60" stroke="#354b74" stroke-width="1.5"/>
<line x1="91.55" y1="406.60" x2="91.55" y2="408.60" stroke="#354b74" stroke-width="0.8"/>
<line x1="85.20" y1="419.60" x2="97.90" y2="419.60" stroke="#a61b3c" stroke-width="1.5"/>
<line x1="91.55" y1="417.60" x2="91.55" y2="419.60" stroke="#a61b3c" stroke-width="0.8"/>
<text x="101.30" y="410.30" font-size="7.6" text-anchor="start" font-weight="normal" font-style="italic" fill="#262626" textLength="25.00" lengthAdjust="spacingAndGlyphs">BACH2</text>
<text x="126.60" y="407.10" font-size="5.0" text-anchor="start" font-weight="normal" font-style="normal" fill="#262626" textLength="10.50" lengthAdjust="spacingAndGlyphs">high</text>
<text x="101.30" y="421.30" font-size="7.6" text-anchor="start" font-weight="normal" font-style="italic" fill="#262626" textLength="25.00" lengthAdjust="spacingAndGlyphs">BACH2</text>
<text x="126.60" y="418.10" font-size="5.0" text-anchor="start" font-weight="normal" font-style="normal" fill="#262626" textLength="8.20" lengthAdjust="spacingAndGlyphs">low</text>
<line x1="48.50" y1="436.90" x2="48.50" y2="523.70" stroke="#1c1c1c" stroke-width="1.3"/>
<line x1="45.70" y1="444.40" x2="48.50" y2="444.40" stroke="#1c1c1c" stroke-width="1.1"/>
<text x="42.40" y="447.30" font-size="8.4" text-anchor="end" font-weight="normal" font-style="normal" fill="#262626" textLength="13.80" lengthAdjust="spacingAndGlyphs">100</text>
<line x1="45.70" y1="483.75" x2="48.50" y2="483.75" stroke="#1c1c1c" stroke-width="1.1"/>
<text x="42.40" y="486.65" font-size="8.4" text-anchor="end" font-weight="normal" font-style="normal" fill="#262626" textLength="9.20" lengthAdjust="spacingAndGlyphs">50</text>
<line x1="45.70" y1="523.10" x2="48.50" y2="523.10" stroke="#1c1c1c" stroke-width="1.1"/>
<text x="42.40" y="526.00" font-size="8.4" text-anchor="end" font-weight="normal" font-style="normal" fill="#262626" textLength="4.60" lengthAdjust="spacingAndGlyphs">0</text>
<line x1="47.90" y1="523.10" x2="173.30" y2="523.10" stroke="#1c1c1c" stroke-width="1.3"/>
<line x1="48.60" y1="523.10" x2="48.60" y2="526.30" stroke="#1c1c1c" stroke-width="1.1"/>
<text x="48.60" y="536.30" font-size="8.4" text-anchor="middle" font-weight="normal" font-style="normal" fill="#262626" textLength="4.50" lengthAdjust="spacingAndGlyphs">0</text>
<line x1="89.00" y1="523.10" x2="89.00" y2="526.30" stroke="#1c1c1c" stroke-width="1.1"/>
<text x="89.00" y="536.30" font-size="8.4" text-anchor="middle" font-weight="normal" font-style="normal" fill="#262626" textLength="13.50" lengthAdjust="spacingAndGlyphs">500</text>
<line x1="129.70" y1="523.10" x2="129.70" y2="526.30" stroke="#1c1c1c" stroke-width="1.1"/>
<text x="129.70" y="536.30" font-size="8.4" text-anchor="middle" font-weight="normal" font-style="normal" fill="#262626" textLength="18.00" lengthAdjust="spacingAndGlyphs">1000</text>
<line x1="171.10" y1="523.10" x2="171.10" y2="526.30" stroke="#1c1c1c" stroke-width="1.1"/>
<text x="171.10" y="536.30" font-size="8.4" text-anchor="middle" font-weight="normal" font-style="normal" fill="#262626" textLength="18.00" lengthAdjust="spacingAndGlyphs">1500</text>
<text x="110.80" y="549.60" font-size="10.9" text-anchor="middle" font-weight="normal" font-style="normal" fill="#262626" textLength="18.80" lengthAdjust="spacingAndGlyphs">Days</text>
<text transform="translate(23.0,479.6) rotate(-90)" font-size="10.4" text-anchor="middle" fill="#262626" textLength="76.8" lengthAdjust="spacingAndGlyphs">Overall survival (%)</text>
<path d="M48.60 444.30 L50.30 444.30 L50.30 449.50 L78.60 449.50 L78.60 460.50 L87.30 460.50 L87.30 472.40 L127.40 472.40" fill="none" stroke="#354b74" stroke-width="1.6" stroke-linejoin="miter"/>
<line x1="53.80" y1="447.50" x2="53.80" y2="449.50" stroke="#354b74" stroke-width="0.9"/>
<line x1="69.60" y1="447.50" x2="69.60" y2="449.50" stroke="#354b74" stroke-width="0.9"/>
<line x1="83.80" y1="458.50" x2="83.80" y2="460.50" stroke="#354b74" stroke-width="0.9"/>
<line x1="113.70" y1="470.40" x2="113.70" y2="472.40" stroke="#354b74" stroke-width="0.9"/>
<line x1="116.20" y1="470.40" x2="116.20" y2="472.40" stroke="#354b74" stroke-width="0.9"/>
<line x1="127.40" y1="470.40" x2="127.40" y2="472.40" stroke="#354b74" stroke-width="0.9"/>
<path d="M48.60 444.90 L48.60 464.50 L49.80 464.50 L49.80 470.30 L53.50 470.30 L53.50 481.30 L76.70 481.30 L76.70 488.20 L110.80 488.20 L110.80 499.00 L122.80 499.00" fill="none" stroke="#a61b3c" stroke-width="1.6" stroke-linejoin="miter"/>
<line x1="69.60" y1="479.30" x2="69.60" y2="481.30" stroke="#a61b3c" stroke-width="0.9"/>
<line x1="88.40" y1="486.20" x2="88.40" y2="488.20" stroke="#a61b3c" stroke-width="0.9"/>
<line x1="95.70" y1="486.20" x2="95.70" y2="488.20" stroke="#a61b3c" stroke-width="0.9"/>
<line x1="113.70" y1="497.00" x2="113.70" y2="499.00" stroke="#a61b3c" stroke-width="0.9"/>
<line x1="117.00" y1="497.00" x2="117.00" y2="499.00" stroke="#a61b3c" stroke-width="0.9"/>
<line x1="122.80" y1="497.00" x2="122.80" y2="499.00" stroke="#a61b3c" stroke-width="0.9"/>
<text x="132.2" y="489.3" font-size="7.8" fill="#262626" textLength="32.2" lengthAdjust="spacingAndGlyphs"><tspan font-style="italic">p</tspan> = 0.027</text>
<text x="183.00" y="385.20" font-size="12" text-anchor="start" font-weight="bold" font-style="normal" fill="#111">G</text>
<line x1="263.10" y1="405.80" x2="275.20" y2="405.80" stroke="#354b74" stroke-width="1.5"/>
<line x1="269.15" y1="403.80" x2="269.15" y2="405.80" stroke="#354b74" stroke-width="0.8"/>
<line x1="263.10" y1="417.60" x2="275.20" y2="417.60" stroke="#a61b3c" stroke-width="1.5"/>
<line x1="269.15" y1="415.60" x2="269.15" y2="417.60" stroke="#a61b3c" stroke-width="0.8"/>
<text x="279.00" y="407.80" font-size="7.6" text-anchor="start" font-weight="normal" font-style="italic" fill="#262626" textLength="25.00" lengthAdjust="spacingAndGlyphs">BACH2</text>
<text x="304.30" y="404.60" font-size="5.0" text-anchor="start" font-weight="normal" font-style="normal" fill="#262626" textLength="11.30" lengthAdjust="spacingAndGlyphs">high</text>
<text x="279.00" y="419.20" font-size="7.6" text-anchor="start" font-weight="normal" font-style="italic" fill="#262626" textLength="25.00" lengthAdjust="spacingAndGlyphs">BACH2</text>
<text x="304.30" y="416.00" font-size="5.0" text-anchor="start" font-weight="normal" font-style="normal" fill="#262626" textLength="8.60" lengthAdjust="spacingAndGlyphs">low</text>
<line x1="226.00" y1="436.70" x2="226.00" y2="523.60" stroke="#1c1c1c" stroke-width="1.3"/>
<line x1="223.20" y1="444.50" x2="226.00" y2="444.50" stroke="#1c1c1c" stroke-width="1.1"/>
<text x="219.90" y="447.40" font-size="8.4" text-anchor="end" font-weight="normal" font-style="normal" fill="#262626" textLength="13.80" lengthAdjust="spacingAndGlyphs">100</text>
<line x1="223.20" y1="483.75" x2="226.00" y2="483.75" stroke="#1c1c1c" stroke-width="1.1"/>
<text x="219.90" y="486.65" font-size="8.4" text-anchor="end" font-weight="normal" font-style="normal" fill="#262626" textLength="9.20" lengthAdjust="spacingAndGlyphs">50</text>
<line x1="223.20" y1="523.00" x2="226.00" y2="523.00" stroke="#1c1c1c" stroke-width="1.1"/>
<text x="219.90" y="525.90" font-size="8.4" text-anchor="end" font-weight="normal" font-style="normal" fill="#262626" textLength="4.60" lengthAdjust="spacingAndGlyphs">0</text>
<line x1="225.40" y1="523.10" x2="351.00" y2="523.10" stroke="#1c1c1c" stroke-width="1.3"/>
<line x1="225.90" y1="523.10" x2="225.90" y2="526.30" stroke="#1c1c1c" stroke-width="1.1"/>
<text x="225.90" y="536.30" font-size="8.4" text-anchor="middle" font-weight="normal" font-style="normal" fill="#262626" textLength="4.50" lengthAdjust="spacingAndGlyphs">0</text>
<line x1="250.60" y1="523.10" x2="250.60" y2="526.30" stroke="#1c1c1c" stroke-width="1.1"/>
<text x="250.60" y="536.30" font-size="8.4" text-anchor="middle" font-weight="normal" font-style="normal" fill="#262626" textLength="4.50" lengthAdjust="spacingAndGlyphs">2</text>
<line x1="275.00" y1="523.10" x2="275.00" y2="526.30" stroke="#1c1c1c" stroke-width="1.1"/>
<text x="275.00" y="536.30" font-size="8.4" text-anchor="middle" font-weight="normal" font-style="normal" fill="#262626" textLength="4.50" lengthAdjust="spacingAndGlyphs">4</text>
<line x1="299.00" y1="523.10" x2="299.00" y2="526.30" stroke="#1c1c1c" stroke-width="1.1"/>
<text x="299.00" y="536.30" font-size="8.4" text-anchor="middle" font-weight="normal" font-style="normal" fill="#262626" textLength="4.50" lengthAdjust="spacingAndGlyphs">6</text>
<line x1="323.70" y1="523.10" x2="323.70" y2="526.30" stroke="#1c1c1c" stroke-width="1.1"/>
<text x="323.70" y="536.30" font-size="8.4" text-anchor="middle" font-weight="normal" font-style="normal" fill="#262626" textLength="4.50" lengthAdjust="spacingAndGlyphs">8</text>
<line x1="348.30" y1="523.10" x2="348.30" y2="526.30" stroke="#1c1c1c" stroke-width="1.1"/>
<text x="348.30" y="536.30" font-size="8.4" text-anchor="middle" font-weight="normal" font-style="normal" fill="#262626" textLength="9.00" lengthAdjust="spacingAndGlyphs">10</text>
<text x="289.00" y="548.60" font-size="10.9" text-anchor="middle" font-weight="normal" font-style="normal" fill="#262626" textLength="20.70" lengthAdjust="spacingAndGlyphs">Years</text>
<text transform="translate(200.5,479.9) rotate(-90)" font-size="10.4" text-anchor="middle" fill="#262626" textLength="76.2" lengthAdjust="spacingAndGlyphs">Overall survival (%)</text>
<path d="M226.40 444.40 L229.20 444.40 L229.20 447.20 L230.30 447.20 L230.30 450.20 L231.50 450.20 L231.50 452.50 L232.40 452.50 L232.40 455.00 L239.30 455.00 L239.30 461.90 L241.00 461.90 L241.00 464.80 L242.50 464.80 L242.50 467.70 L244.20 467.70 L244.20 470.60 L249.50 470.60 L249.50 474.40 L264.80 474.40 L264.80 477.50 L265.60 477.50 L265.60 487.90 L323.70 487.90 L323.70 499.80 L325.40 499.80 L325.40 511.00 L329.40 511.00 L329.40 523.10" fill="none" stroke="#354b74" stroke-width="1.6" stroke-linejoin="miter"/>
<line x1="237.00" y1="453.00" x2="237.00" y2="455.00" stroke="#354b74" stroke-width="0.9"/>
<line x1="253.00" y1="472.40" x2="253.00" y2="474.40" stroke="#354b74" stroke-width="0.9"/>
<line x1="262.00" y1="472.40" x2="262.00" y2="474.40" stroke="#354b74" stroke-width="0.9"/>
<line x1="311.00" y1="485.90" x2="311.00" y2="487.90" stroke="#354b74" stroke-width="0.9"/>
<line x1="313.80" y1="485.90" x2="313.80" y2="487.90" stroke="#354b74" stroke-width="0.9"/>
<path d="M226.40 444.40 L226.40 449.00 L227.00 449.00 L227.00 453.00 L227.60 453.00 L227.60 458.00 L228.30 458.00 L228.30 461.00 L229.50 461.00 L229.50 464.00 L230.50 464.00 L230.50 467.00 L231.50 467.00 L231.50 469.00 L232.40 469.00 L232.40 471.00 L233.50 471.00 L233.50 473.50 L234.70 473.50 L234.70 477.00 L244.60 477.00 L244.60 481.50 L251.00 481.50 L251.00 485.00 L252.50 485.00 L252.50 490.80 L253.80 490.80 L253.80 494.80 L260.80 494.80 L260.80 500.90 L266.50 500.90 L266.50 506.70 L274.00 506.70 L274.00 512.10 L283.30 512.10 L283.30 517.30 L287.30 517.30 L287.30 523.10" fill="none" stroke="#a61b3c" stroke-width="1.6" stroke-linejoin="miter"/>
<line x1="239.50" y1="475.00" x2="239.50" y2="477.00" stroke="#a61b3c" stroke-width="0.9"/>
<text x="286.4" y="479.3" font-size="7.8" fill="#262626" textLength="31.2" lengthAdjust="spacingAndGlyphs"><tspan font-style="italic">p</tspan> = 0.042</text>
<text x="356.50" y="384.60" font-size="12" text-anchor="start" font-weight="bold" font-style="normal" fill="#111">H</text>
<rect x="382.7" y="390.8" width="112.10000000000002" height="173.59999999999997" fill="#fff"/>
<rect x="382.70" y="390.80" width="27.70" height="28.80" fill="#d7d7d7" stroke="#fff" stroke-width="1"/>
<rect x="410.40" y="390.80" width="27.90" height="28.80" fill="#d7d7d7" stroke="#fff" stroke-width="1"/>
<rect x="438.30" y="390.80" width="28.60" height="28.80" fill="#d7d7d7" stroke="#fff" stroke-width="1"/>
<rect x="466.90" y="390.80" width="27.90" height="28.80" fill="#d7d7d7" stroke="#fff" stroke-width="1"/>
<rect x="382.70" y="419.60" width="27.70" height="29.00" fill="#d7d7d7" stroke="#fff" stroke-width="1"/>
<rect x="410.40" y="419.60" width="27.90" height="29.00" fill="#e8824a" stroke="#fff" stroke-width="1"/>
<rect x="438.30" y="419.60" width="28.60" height="29.00" fill="#f6e25e" stroke="#fff" stroke-width="1"/>
<rect x="466.90" y="419.60" width="27.90" height="29.00" fill="#8fc160" stroke="#fff" stroke-width="1"/>
<rect x="382.70" y="448.60" width="27.70" height="28.90" fill="#d7d7d7" stroke="#fff" stroke-width="1"/>
<rect x="410.40" y="448.60" width="27.90" height="28.90" fill="#ea9852" stroke="#fff" stroke-width="1"/>
<rect x="438.30" y="448.60" width="28.60" height="28.90" fill="#f5d95c" stroke="#fff" stroke-width="1"/>
<rect x="466.90" y="448.60" width="27.90" height="28.90" fill="#a8c65e" stroke="#fff" stroke-width="1"/>
<rect x="382.70" y="477.50" width="27.70" height="29.00" fill="#d7d7d7" stroke="#fff" stroke-width="1"/>
<rect x="410.40" y="477.50" width="27.90" height="29.00" fill="#e98e4e" stroke="#fff" stroke-width="1"/>
<rect x="438.30" y="477.50" width="28.60" height="29.00" fill="#f6e05c" stroke="#fff" stroke-width="1"/>
<rect x="466.90" y="477.50" width="27.90" height="29.00" fill="#6fb66a" stroke="#fff" stroke-width="1"/>
<rect x="382.70" y="506.50" width="27.70" height="29.10" fill="#d7d7d7" stroke="#fff" stroke-width="1"/>
<rect x="410.40" y="506.50" width="27.90" height="29.10" fill="#dd4a44" stroke="#fff" stroke-width="1"/>
<rect x="438.30" y="506.50" width="28.60" height="29.10" fill="#f2c55a" stroke="#fff" stroke-width="1"/>
<rect x="466.90" y="506.50" width="27.90" height="29.10" fill="#b6cc5e" stroke="#fff" stroke-width="1"/>
<rect x="382.70" y="535.60" width="27.70" height="28.80" fill="#d7d7d7" stroke="#fff" stroke-width="1"/>
<rect x="410.40" y="535.60" width="27.90" height="28.80" fill="#e8824a" stroke="#fff" stroke-width="1"/>
<rect x="438.30" y="535.60" width="28.60" height="28.80" fill="#f6e35e" stroke="#fff" stroke-width="1"/>
<rect x="466.90" y="535.60" width="27.90" height="28.80" fill="#88be60" stroke="#fff" stroke-width="1"/>
<rect x="382.70" y="390.80" width="112.10" height="173.60" fill="none" stroke="#3a3a3a" stroke-width="1.6"/>
<text x="425.20" y="408.40" font-size="7.6" text-anchor="middle" font-weight="bold" font-style="normal" fill="#222" textLength="23.40" lengthAdjust="spacingAndGlyphs">Tumor</text>
<text x="452.80" y="408.40" font-size="7.6" text-anchor="middle" font-weight="bold" font-style="normal" fill="#222" textLength="10.60" lengthAdjust="spacingAndGlyphs">SP</text>
<text x="480.50" y="408.40" font-size="7.6" text-anchor="middle" font-weight="bold" font-style="normal" fill="#222" textLength="11.90" lengthAdjust="spacingAndGlyphs">BM</text>
<text x="396.50" y="437.00" font-size="7.0" text-anchor="middle" font-weight="bold" font-style="normal" fill="#222" textLength="9.40" lengthAdjust="spacingAndGlyphs"># 1</text>
<text x="425.55" y="437.00" font-size="7.2" text-anchor="middle" font-weight="normal" font-style="normal" fill="#222" textLength="23.10" lengthAdjust="spacingAndGlyphs">1.0000</text>
<text x="452.90" y="437.00" font-size="7.2" text-anchor="middle" font-weight="normal" font-style="normal" fill="#222" textLength="23.10" lengthAdjust="spacingAndGlyphs">0.5174</text>
<text x="480.45" y="437.00" font-size="7.2" text-anchor="middle" font-weight="normal" font-style="normal" fill="#222" textLength="23.10" lengthAdjust="spacingAndGlyphs">0.2219</text>
<text x="396.50" y="465.95" font-size="7.0" text-anchor="middle" font-weight="bold" font-style="normal" fill="#222" textLength="9.40" lengthAdjust="spacingAndGlyphs"># 2</text>
<text x="425.55" y="465.95" font-size="7.2" text-anchor="middle" font-weight="normal" font-style="normal" fill="#222" textLength="23.10" lengthAdjust="spacingAndGlyphs">0.8487</text>
<text x="452.90" y="465.95" font-size="7.2" text-anchor="middle" font-weight="normal" font-style="normal" fill="#222" textLength="23.10" lengthAdjust="spacingAndGlyphs">0.6072</text>
<text x="480.45" y="465.95" font-size="7.2" text-anchor="middle" font-weight="normal" font-style="normal" fill="#222" textLength="23.10" lengthAdjust="spacingAndGlyphs">0.3156</text>
<text x="396.50" y="494.90" font-size="7.0" text-anchor="middle" font-weight="bold" font-style="normal" fill="#222" textLength="9.40" lengthAdjust="spacingAndGlyphs"># 3</text>
<text x="425.55" y="494.90" font-size="7.2" text-anchor="middle" font-weight="normal" font-style="normal" fill="#222" textLength="23.10" lengthAdjust="spacingAndGlyphs">0.9127</text>
<text x="452.90" y="494.90" font-size="7.2" text-anchor="middle" font-weight="normal" font-style="normal" fill="#222" textLength="23.10" lengthAdjust="spacingAndGlyphs">0.5264</text>
<text x="480.45" y="494.90" font-size="7.2" text-anchor="middle" font-weight="normal" font-style="normal" fill="#222" textLength="19.25" lengthAdjust="spacingAndGlyphs">0.112</text>
<text x="396.50" y="523.95" font-size="7.0" text-anchor="middle" font-weight="bold" font-style="normal" fill="#222" textLength="9.40" lengthAdjust="spacingAndGlyphs"># 4</text>
<text x="425.55" y="523.95" font-size="7.2" text-anchor="middle" font-weight="normal" font-style="normal" fill="#222" textLength="23.10" lengthAdjust="spacingAndGlyphs">1.3687</text>
<text x="452.90" y="523.95" font-size="7.2" text-anchor="middle" font-weight="normal" font-style="normal" fill="#222" textLength="23.10" lengthAdjust="spacingAndGlyphs">0.6552</text>
<text x="480.45" y="523.95" font-size="7.2" text-anchor="middle" font-weight="normal" font-style="normal" fill="#222" textLength="23.10" lengthAdjust="spacingAndGlyphs">0.3484</text>
<text x="396.50" y="552.90" font-size="7.0" text-anchor="middle" font-weight="bold" font-style="normal" fill="#222" textLength="9.40" lengthAdjust="spacingAndGlyphs"># 5</text>
<text x="425.55" y="552.90" font-size="7.2" text-anchor="middle" font-weight="normal" font-style="normal" fill="#222" textLength="19.25" lengthAdjust="spacingAndGlyphs">1.017</text>
<text x="452.90" y="552.90" font-size="7.2" text-anchor="middle" font-weight="normal" font-style="normal" fill="#222" textLength="23.10" lengthAdjust="spacingAndGlyphs">0.5057</text>
<text x="480.45" y="552.90" font-size="7.2" text-anchor="middle" font-weight="normal" font-style="normal" fill="#222" textLength="23.10" lengthAdjust="spacingAndGlyphs">0.2094</text>
<line x1="373.60" y1="424.00" x2="373.60" y2="464.70" stroke="#111" stroke-width="1.4"/>
<path d="M373.6 417 L377.0 424.6 L370.2 424.6 Z" fill="#111"/>
<text transform="translate(377.40,519.00) rotate(-90)" x="0" y="0" font-size="10.4" text-anchor="middle" fill="#262626" textLength="84.10" lengthAdjust="spacingAndGlyphs"><tspan font-style="normal">Relative </tspan><tspan font-style="italic">BACH2</tspan><tspan font-style="normal"> levels</tspan></text>
<defs><linearGradient id="cs" x1="0" x2="1" y1="0" y2="0"><stop offset="0" stop-color="#6cb86a"/><stop offset="0.5" stop-color="#f4e24e"/><stop offset="1" stop-color="#dc3a3c"/></linearGradient></defs>
<rect x="412.7" y="572.7" width="50.4" height="8.3" fill="url(#cs)"/>
<text x="395.80" y="581.00" font-size="8" text-anchor="start" font-weight="bold" font-style="normal" fill="#333" textLength="14.00" lengthAdjust="spacingAndGlyphs">Low</text>
<text x="465.00" y="581.00" font-size="8" text-anchor="start" font-weight="bold" font-style="normal" fill="#333" textLength="15.40" lengthAdjust="spacingAndGlyphs">High</text>
<text x="438.20" y="592.50" font-size="10.6" text-anchor="middle" font-weight="normal" font-style="normal" fill="#222" textLength="42.70" lengthAdjust="spacingAndGlyphs">Color scale</text>
<rect x="0.6" y="0.6" width="518.8" height="600.8" fill="none" stroke="#000" stroke-width="1.6"/>
</svg></body></html>
